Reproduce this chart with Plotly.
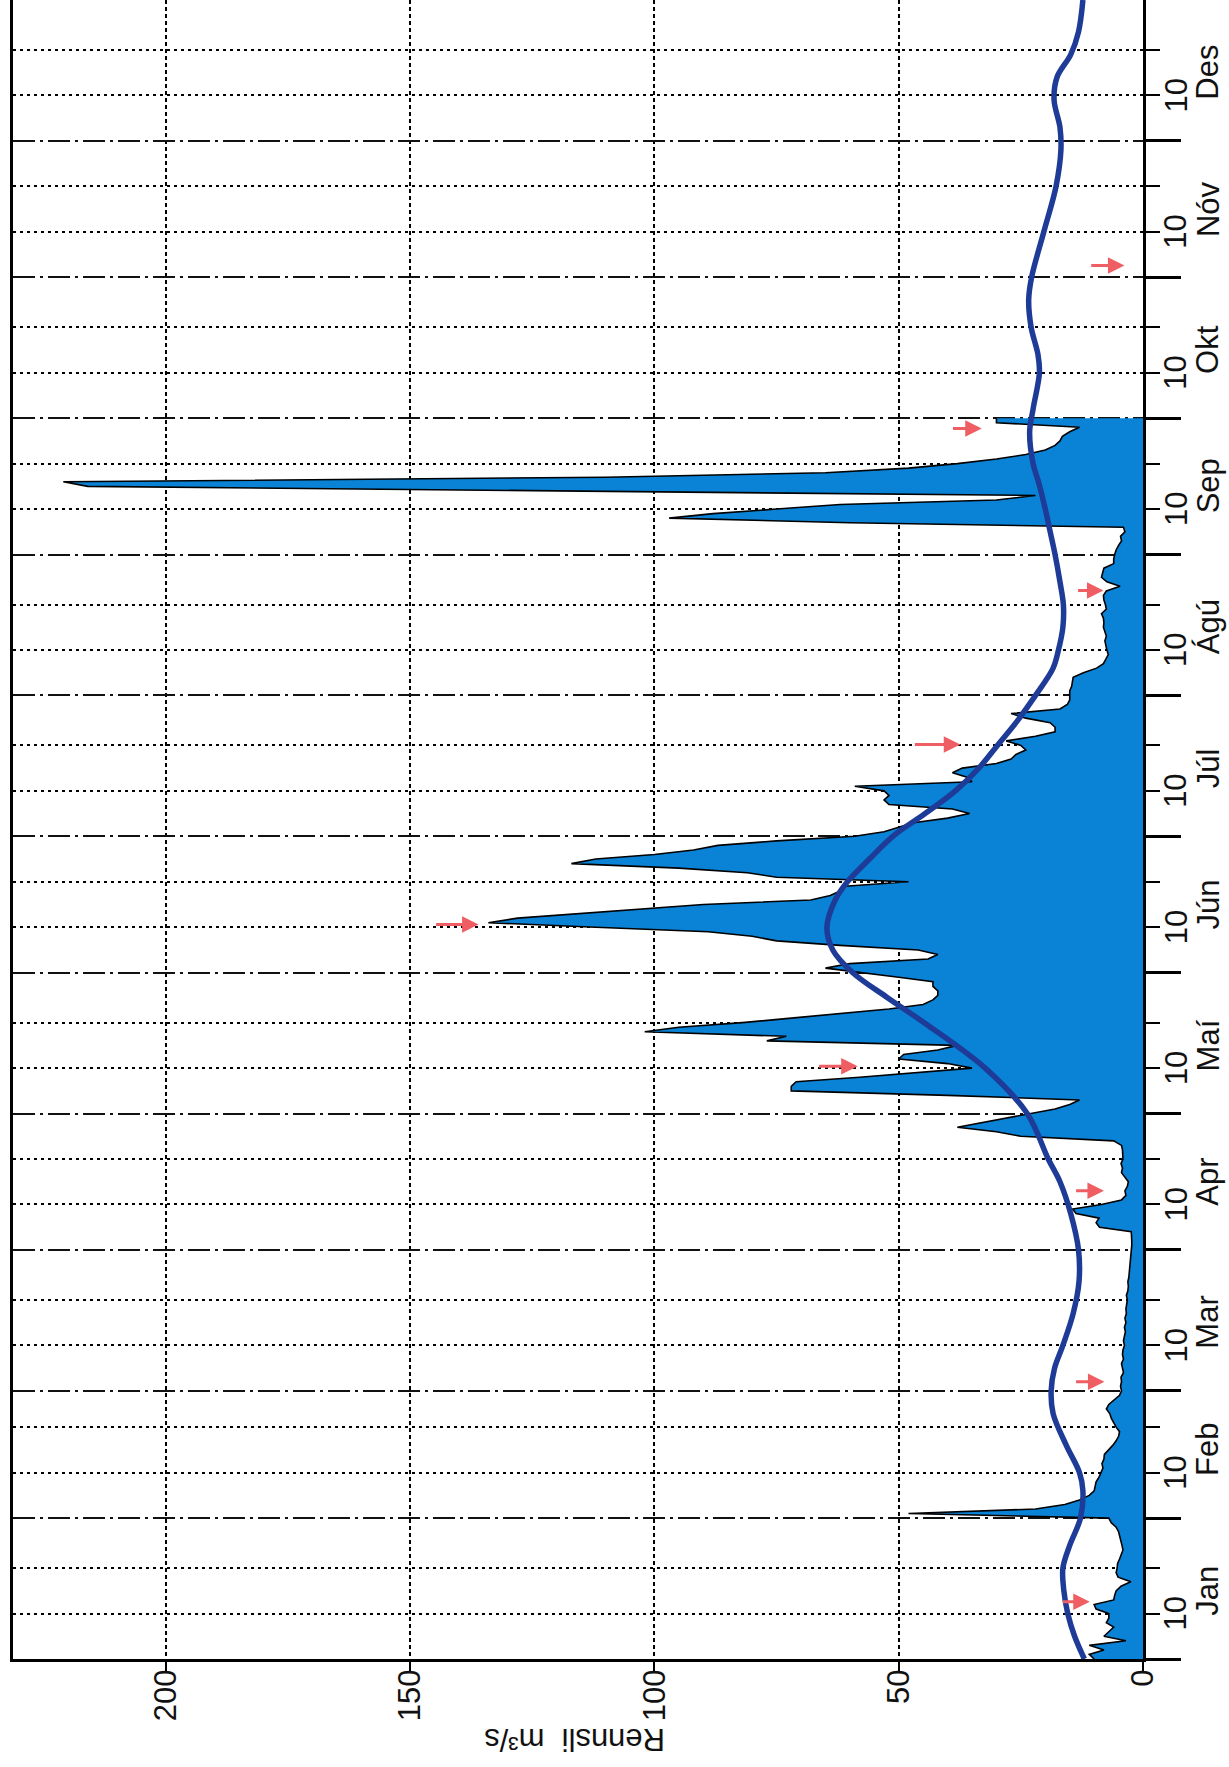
import plotly.graph_objects as go

# ---------------- data ----------------
month_names = ["Jan", "Feb", "Mar", "Apr", "Maí", "Jún", "Júl", "Ágú", "Sep", "Okt", "Nóv", "Des"]
month_starts = [0, 31, 59, 90, 120, 151, 181, 212, 243, 273, 304, 334]
flow_ticks = [0, 50, 100, 150, 200]

# daily discharge (m3/s), day index 0 = 1 Jan ... 273 = 1 Oct
flow = [
    10, 11, 8, 11, 3.5, 8, 7, 6, 7.5, 7,
    7, 9.6, 10, 6, 5.8, 5.5, 4.5, 2.5, 5.1, 5.5,
    5.3, 5.2, 4.8, 4.5, 4.1, 4.3, 4.5, 4.7, 5, 5.5,
    6.5, 7, 48, 22, 16, 13, 11, 10, 9.8, 9.6,
    9, 8.6, 8.2, 8.4, 8, 7.9, 7, 6.2, 5.5, 5,
    4.8, 5.5, 6, 6.5, 6.8, 7.5, 7, 5.8, 4.8, 4.4,
    4.6, 4.4, 4.5, 4, 4.2, 4.4, 4, 4.2, 4.1, 3.8,
    4, 3.8, 3.6, 3.8, 3.5, 3.7, 3.4, 3.5, 3.3, 3.2,
    3.4, 3.1, 3.0, 3.1, 2.9, 2.8, 2.7, 2.6, 2.5, 2.4,
    2.4, 2.3, 2.3, 2.4, 2.4, 8.9, 9.6, 9, 13.7, 14.4,
    8.5, 4.4, 3.5, 3.7, 3.2, 3, 3.8, 4.4, 4.2, 4.5,
    4.1, 4.1, 4.2, 4.4, 6, 25, 30, 38, 33, 28,
    23, 18, 15, 13, 40, 72, 72, 71, 58, 46,
    35, 40, 50, 49, 42, 38, 77, 73, 102, 95,
    82, 72, 62, 52, 45, 43, 42, 42, 43, 43,
    50, 58, 65, 60, 44, 42, 46, 62, 75, 80,
    89, 112, 134, 128, 115, 103, 90, 68, 64, 62,
    61, 48, 75, 81, 95, 117, 112, 100, 92, 87,
    75, 59, 53, 50, 47, 40, 35.5, 39, 52, 53,
    52, 53, 59, 35, 36, 39, 37, 30, 27, 26,
    24, 25, 28, 22, 18, 18, 19, 24, 27, 17,
    15.5, 15, 15, 15, 14.6, 14.5, 14.3, 12.2, 9.5, 8.1,
    7.6, 7.1, 7.4, 7.6, 7.8, 7.5, 7.8, 8.1, 8, 8.1,
    8.5, 7.5, 7.7, 8, 8.1, 7.5, 4.7, 7.4, 8.5, 8.3,
    8, 6, 6, 5.8, 5.5, 5, 4.4, 4.6, 3.7, 4,
    60, 97, 88, 75, 62, 30, 22, 120, 216, 221,
    110, 65, 48, 38, 30, 24, 20, 18, 17, 16.5,
    15, 13, 30, 30,
]
flow_days = list(range(len(flow)))

# long-term mean discharge (smooth curve)
mean_days = [0, 5, 10, 15, 20, 25, 31, 37, 41, 47, 54, 59, 64, 69, 76, 83, 90, 98, 105,
             110, 120, 130, 140, 145.5, 151, 156, 161, 167, 171, 176, 181, 186, 191,
             196, 201, 206, 212, 218, 222, 227, 232, 237, 243, 248, 253, 259, 263,
             270, 275, 283, 287, 293, 299, 304, 314, 324, 332, 337, 343, 348, 353,
             358, 365]
mean_flow = [12.0, 14.0, 15.4, 16.2, 16.4, 15.0, 12.8, 12.3, 13.0, 15.7, 18.4, 18.8, 18.1,
             16.4, 14.3, 13.1, 13.2, 14.8, 17.0, 19.4, 23.7, 32.3, 44.8, 52.3, 59.4, 63.5,
             64.7, 63.0, 60.5, 56.0, 51.2, 44.6, 38.4, 33.6, 29.8, 26.0, 22.0, 18.4, 17.3,
             16.4, 16.3, 17.0, 18.0, 19.0, 20.0, 21.4, 22.5, 23.2, 22.5, 21.2, 21.5, 22.9,
             23.4, 22.8, 20.3, 17.8, 16.8, 17.0, 18.2, 17.6, 14.8, 13.2, 12.3]

# measurement markers (red arrows): day, arrow head value, arrow tail value
arrow_days = [12.6, 61, 103, 130.4, 161.6, 201.2, 235.1, 270.7, 306.6]
arrow_head = [10.9, 7.9, 8.0, 58.4, 136, 37.4, 8.1, 33, 3.8]
arrow_tail = [16.7, 14.0, 14.0, 66.6, 145, 47, 13.6, 39.2, 10.9]

# ---------------- figure ----------------
FONT = "Liberation Sans, Arial, Helvetica, sans-serif"
day10 = [m + 10 for m in month_starts]
day20 = [m + 20 for m in month_starts]
mid = [m + 15 for m in month_starts]

fig = go.Figure()
fig.add_trace(go.Scatter(
    x=flow, y=flow_days, mode="lines",
    line=dict(color="black", width=1.6),
    fill="tozerox", fillcolor="#0a82d5",
    showlegend=False, hoverinfo="skip"))
fig.add_trace(go.Scatter(
    x=mean_flow, y=mean_days, mode="lines",
    line=dict(color="#1e3b98", width=5.5, shape="spline", smoothing=1.0),
    showlegend=False, hoverinfo="skip"))

W, H = 1229, 1767
ML, MR, MT, MB = 13, 86, 0, 108
pw = W - ML - MR

annotations = []
for d in day10:
    annotations.append(dict(text="10", x=1 + (1176 - (W - MR)) / pw, xref="paper", y=d, yref="y",
                            showarrow=False, textangle=-90, xanchor="center", yanchor="middle",
                            font=dict(family=FONT, size=31, color="#111")))
for name, d in zip(month_names, mid):
    annotations.append(dict(text=name, x=1 + (1208 - (W - MR)) / pw, xref="paper", y=d, yref="y",
                            showarrow=False, textangle=-90, xanchor="center", yanchor="middle",
                            font=dict(family=FONT, size=31, color="#111")))
annotations.append(dict(text="Rennsli  m³/s", x=(575 - ML) / pw, xref="paper",
                        y=-(1739 - (H - MB)) / (H - MB - MT), yref="paper",
                        showarrow=False, textangle=180, xanchor="center", yanchor="middle",
                        font=dict(family=FONT, size=31, color="#111")))
for d, h, tl in zip(arrow_days, arrow_head, arrow_tail):
    annotations.append(dict(text="", x=h, y=d, xref="x", yref="y",
                            ax=tl, ay=d, axref="x", ayref="y",
                            showarrow=True, arrowhead=2, arrowsize=1.1, arrowwidth=3,
                            arrowcolor="#ef5e63", standoff=0))

fig.update_layout(
    width=W, height=H,
    margin=dict(l=ML, r=MR, t=MT, b=MB, pad=0),
    paper_bgcolor="white", plot_bgcolor="white",
    annotations=annotations,
    xaxis=dict(range=[231.3, 0], tickmode="array", tickvals=flow_ticks,
               ticktext=[str(v) for v in flow_ticks],
               ticks="outside", ticklen=10, tickwidth=2, tickcolor="black",
               ticklabelstandoff=-15,
               tickangle=-90, tickfont=dict(family=FONT, size=31, color="#111"),
               showgrid=True, gridcolor="black", gridwidth=1.5, griddash="4px,3px",
               zeroline=False, showline=True, linecolor="black", linewidth=3),
    yaxis=dict(range=[0, 365], side="right", tickmode="array", tickvals=month_starts,
               ticks="outside", ticklen=35, tickwidth=2.5, tickcolor="black",
               showticklabels=False,
               showgrid=True, gridcolor="#111", gridwidth=2, griddash="22px,5px,3px,5px",
               zeroline=False, showline=True, linecolor="black", linewidth=3, mirror=True,
               minor=dict(tickmode="array", tickvals=day10 + day20, ticks="outside",
                          ticklen=14, tickwidth=2, tickcolor="black",
                          showgrid=True, gridcolor="black", gridwidth=2, griddash="3px,4px")),
)

fig.write_html("out.html")
